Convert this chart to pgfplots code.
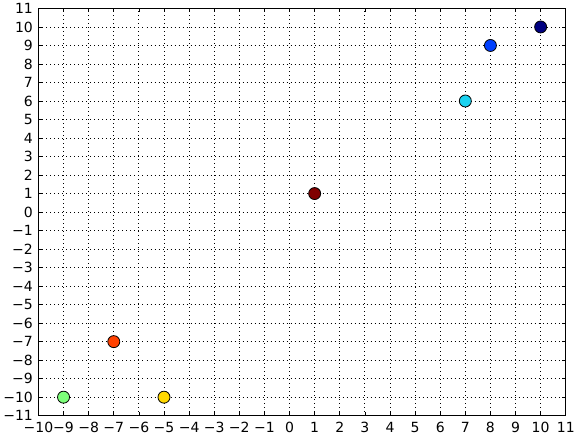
\documentclass[border=0pt]{standalone}
\usepackage{pgfplots}
\pgfplotsset{compat=1.18}
\usepackage{fontspec}
\setmainfont{DejaVu Sans}
\definecolor{cA}{HTML}{7DFF7A}
\definecolor{cB}{HTML}{FF4100}
\definecolor{cC}{HTML}{FFD800}
\definecolor{cD}{HTML}{800000}
\definecolor{cE}{HTML}{1AD2F0}
\definecolor{cF}{HTML}{0040FF}
\definecolor{cG}{HTML}{000080}
\begin{document}
\begin{tikzpicture}[x=1pt,y=1pt]
\begin{axis}[
  scale only axis,
  width=527pt, height=407pt,
  xmin=-10, xmax=11, ymin=-11, ymax=11,
  xtick={-10,...,11}, ytick={-11,...,11},
  xticklabels={−10,−9,−8,−7,−6,−5,−4,−3,−2,−1,0,1,2,3,4,5,6,7,8,9,10,11},
  yticklabels={−11,−10,−9,−8,−7,−6,−5,−4,−3,−2,−1,0,1,2,3,4,5,6,7,8,9,10,11},
  tick label style={font=\fontsize{14}{15}\selectfont},
  tick align=inside,
  tick pos=both,
  major tick length=4pt,
  tick style={black, line width=0.6pt},
  axis line style={black, line width=1pt},
  grid=major,
  major grid style={black, dash pattern=on 0.8pt off 3.2pt, line width=0.8pt},
  xticklabel style={yshift=-3pt},
  yticklabel style={xshift=-2pt},
  scatter/classes={
    a={mark=*, fill=cA, draw=black},
    b={mark=*, fill=cB, draw=black},
    c={mark=*, fill=cC, draw=black},
    d={mark=*, fill=cD, draw=black},
    e={mark=*, fill=cE, draw=black},
    f={mark=*, fill=cF, draw=black},
    g={mark=*, fill=cG, draw=black}},
]
\addplot[scatter, only marks, mark size=6pt, scatter src=explicit symbolic,
  mark options={line width=0.8pt}] table[meta=label] {
x y label
-9 -10 a
-7 -7 b
-5 -10 c
1 1 d
7 6 e
8 9 f
10 10 g
};
\end{axis}
\end{tikzpicture}
\end{document}
